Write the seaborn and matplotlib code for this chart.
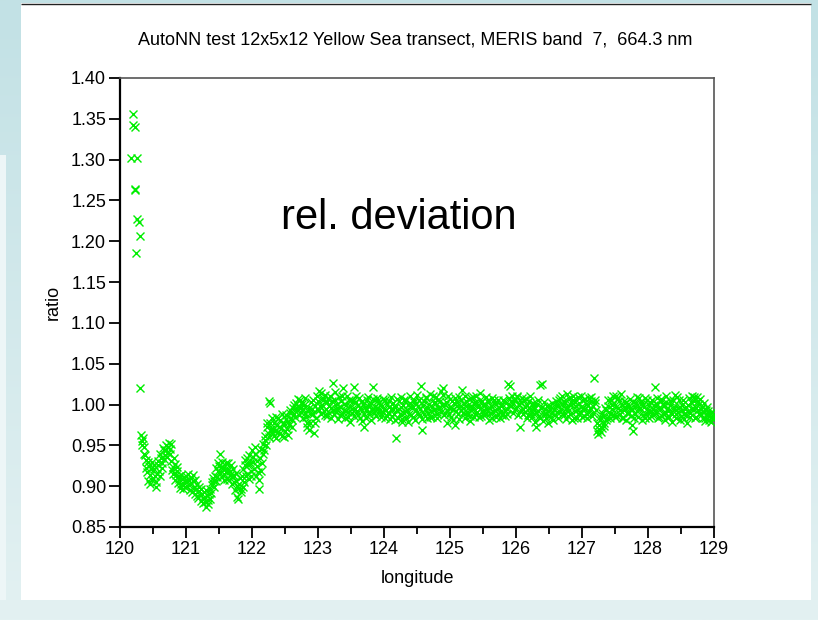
import numpy as np
import pandas as pd
import matplotlib
matplotlib.use("Agg")
import matplotlib.pyplot as plt
import seaborn as sns
from matplotlib.patches import Rectangle
from matplotlib.colors import LinearSegmentedColormap
from matplotlib.ticker import MultipleLocator, FormatStrFormatter

sns.set_style("white")
plt.rcParams["font.family"] = ["Liberation Sans", "DejaVu Sans"]
plt.rcParams["text.color"] = "black"
plt.rcParams["axes.labelcolor"] = "black"

TITLE = "AutoNN test 12x5x12 Yellow Sea transect, MERIS band  7,  664.3 nm"

# Near-coast samples with strongly elevated ratio
lon_outlier = [120.19, 120.20, 120.23, 120.17, 120.26, 120.23, 120.23,
               120.26, 120.29, 120.30, 120.24, 120.30]
ratio_outlier = [1.356, 1.342, 1.340, 1.302, 1.302, 1.264, 1.263,
                 1.227, 1.223, 1.206, 1.186, 1.020]

# Coastal stretch (depressed ratio), even samples
lon_coast = [
    120.32, 120.34, 120.36, 120.38, 120.40, 120.42, 120.44, 120.46, 120.48, 120.50,
    120.52, 120.54, 120.56, 120.58, 120.60, 120.62, 120.64, 120.66, 120.68, 120.70,
    120.72, 120.74, 120.76, 120.78, 120.80, 120.82, 120.84, 120.86, 120.88, 120.90,
    120.92, 120.94, 120.96, 120.98, 121.00, 121.02, 121.04, 121.06, 121.08, 121.10,
    121.12, 121.14, 121.16, 121.18, 121.20, 121.22, 121.24, 121.26, 121.28, 121.30,
    121.32, 121.34, 121.36, 121.38, 121.40, 121.42, 121.44, 121.46, 121.48, 121.50,
    121.52, 121.54, 121.56, 121.58, 121.60, 121.62, 121.64, 121.66, 121.68, 121.70,
    121.72, 121.74, 121.76, 121.78, 121.80, 121.82, 121.84, 121.86, 121.88, 121.90,
    121.92, 121.94, 121.96, 121.98, 122.00, 122.02, 122.04, 122.06, 122.08, 122.10,
    122.12, 122.14, 122.16, 122.18, 122.20, 122.22, 122.24, 122.26, 122.28, 122.30,
]
ratio_coast = [
    0.963, 0.955, 0.948, 0.938, 0.932, 0.906, 0.925, 0.914, 0.930, 0.910,
    0.921, 0.899, 0.915, 0.926, 0.912, 0.935, 0.928, 0.944, 0.938, 0.950,
    0.941, 0.953, 0.946, 0.931, 0.924, 0.935, 0.908, 0.918, 0.904, 0.912,
    0.903, 0.909, 0.897, 0.906, 0.912, 0.900, 0.908, 0.895, 0.904, 0.914,
    0.898, 0.891, 0.903, 0.886, 0.894, 0.882, 0.890, 0.879, 0.886, 0.875,
    0.889, 0.883, 0.897, 0.892, 0.905, 0.899, 0.913, 0.906, 0.918, 0.925,
    0.940, 0.911, 0.922, 0.915, 0.928, 0.909, 0.920, 0.914, 0.926, 0.903,
    0.912, 0.895, 0.906, 0.887, 0.898, 0.910, 0.893, 0.921, 0.905, 0.932,
    0.915, 0.926, 0.938, 0.919, 0.944, 0.930, 0.948, 0.912, 0.925, 0.897,
    0.935, 0.918, 0.952, 0.944, 0.957, 0.972, 0.965, 1.004, 0.978, 0.984,
]

# Coastal stretch, odd samples
lon_coast_b = [
    120.33, 120.35, 120.37, 120.39, 120.41, 120.43, 120.45, 120.47, 120.49, 120.51,
    120.53, 120.55, 120.57, 120.59, 120.61, 120.63, 120.65, 120.67, 120.69, 120.71,
    120.73, 120.75, 120.77, 120.79, 120.81, 120.83, 120.85, 120.87, 120.89, 120.91,
    120.93, 120.95, 120.97, 120.99, 121.01, 121.03, 121.05, 121.07, 121.09, 121.11,
    121.13, 121.15, 121.17, 121.19, 121.21, 121.23, 121.25, 121.27, 121.29, 121.31,
    121.33, 121.35, 121.37, 121.39, 121.41, 121.43, 121.45, 121.47, 121.49, 121.51,
    121.53, 121.55, 121.57, 121.59, 121.61, 121.63, 121.65, 121.67, 121.69, 121.71,
    121.73, 121.75, 121.77, 121.79, 121.81, 121.83, 121.85, 121.87, 121.89, 121.91,
    121.93, 121.95, 121.97, 121.99, 122.01, 122.03, 122.05, 122.07, 122.09, 122.11,
    122.13, 122.15, 122.17, 122.19, 122.21, 122.23, 122.25, 122.27, 122.29, 122.31,
]
ratio_coast_b = [
    0.951, 0.959, 0.940, 0.922, 0.917, 0.930, 0.903, 0.921, 0.908, 0.926,
    0.913, 0.905, 0.931, 0.919, 0.940, 0.922, 0.947, 0.933, 0.944, 0.936,
    0.948, 0.939, 0.952, 0.920, 0.915, 0.927, 0.914, 0.923, 0.909, 0.898,
    0.914, 0.902, 0.911, 0.899, 0.906, 0.915, 0.901, 0.910, 0.893, 0.906,
    0.908, 0.897, 0.888, 0.899, 0.889, 0.896, 0.885, 0.893, 0.881, 0.895,
    0.878, 0.890, 0.884, 0.901, 0.910, 0.906, 0.922, 0.911, 0.928, 0.916,
    0.924, 0.930, 0.908, 0.921, 0.917, 0.929, 0.907, 0.919, 0.913, 0.921,
    0.905, 0.916, 0.900, 0.884, 0.903, 0.897, 0.912, 0.899, 0.926, 0.913,
    0.935, 0.909, 0.928, 0.912, 0.936, 0.921, 0.940, 0.931, 0.917, 0.908,
    0.945, 0.928, 0.940, 0.962, 0.950, 0.978, 0.960, 1.002, 0.970, 0.966,
]

# Offshore stretch (ratio close to one), even samples
lon_offshore = [
    122.32, 122.34, 122.36, 122.38, 122.40, 122.42, 122.44, 122.46, 122.48, 122.50,
    122.52, 122.54, 122.56, 122.58, 122.60, 122.62, 122.64, 122.66, 122.68, 122.70,
    122.72, 122.74, 122.76, 122.78, 122.80, 122.82, 122.84, 122.86, 122.88, 122.90,
    122.92, 122.94, 122.96, 122.98, 123.00, 123.02, 123.04, 123.06, 123.08, 123.10,
    123.12, 123.14, 123.16, 123.18, 123.20, 123.22, 123.24, 123.26, 123.28, 123.30,
    123.32, 123.34, 123.36, 123.38, 123.40, 123.42, 123.44, 123.46, 123.48, 123.50,
    123.52, 123.54, 123.56, 123.58, 123.60, 123.62, 123.64, 123.66, 123.68, 123.70,
    123.72, 123.74, 123.76, 123.78, 123.80, 123.82, 123.84, 123.86, 123.88, 123.90,
    123.92, 123.94, 123.96, 123.98, 124.00, 124.02, 124.04, 124.06, 124.08, 124.10,
    124.12, 124.14, 124.16, 124.18, 124.20, 124.22, 124.24, 124.26, 124.28, 124.30,
    124.32, 124.34, 124.36, 124.38, 124.40, 124.42, 124.44, 124.46, 124.48, 124.50,
    124.52, 124.54, 124.56, 124.58, 124.60, 124.62, 124.64, 124.66, 124.68, 124.70,
    124.72, 124.74, 124.76, 124.78, 124.80, 124.82, 124.84, 124.86, 124.88, 124.90,
    124.92, 124.94, 124.96, 124.98, 125.00, 125.02, 125.04, 125.06, 125.08, 125.10,
    125.12, 125.14, 125.16, 125.18, 125.20, 125.22, 125.24, 125.26, 125.28, 125.30,
    125.32, 125.34, 125.36, 125.38, 125.40, 125.42, 125.44, 125.46, 125.48, 125.50,
    125.52, 125.54, 125.56, 125.58, 125.60, 125.62, 125.64, 125.66, 125.68, 125.70,
    125.72, 125.74, 125.76, 125.78, 125.80, 125.82, 125.84, 125.86, 125.88, 125.90,
    125.92, 125.94, 125.96, 125.98, 126.00, 126.02, 126.04, 126.06, 126.08, 126.10,
    126.12, 126.14, 126.16, 126.18, 126.20, 126.22, 126.24, 126.26, 126.28, 126.30,
    126.32, 126.34, 126.36, 126.38, 126.40, 126.42, 126.44, 126.46, 126.48, 126.50,
    126.52, 126.54, 126.56, 126.58, 126.60, 126.62, 126.64, 126.66, 126.68, 126.70,
    126.72, 126.74, 126.76, 126.78, 126.80, 126.82, 126.84, 126.86, 126.88, 126.90,
    126.92, 126.94, 126.96, 126.98, 127.00, 127.02, 127.04, 127.06, 127.08, 127.10,
    127.12, 127.14, 127.16, 127.18, 127.20, 127.22, 127.24, 127.26, 127.28, 127.30,
    127.32, 127.34, 127.36, 127.38, 127.40, 127.42, 127.44, 127.46, 127.48, 127.50,
    127.52, 127.54, 127.56, 127.58, 127.60, 127.62, 127.64, 127.66, 127.68, 127.70,
    127.72, 127.74, 127.76, 127.78, 127.80, 127.82, 127.84, 127.86, 127.88, 127.90,
    127.92, 127.94, 127.96, 127.98, 128.00, 128.02, 128.04, 128.06, 128.08, 128.10,
    128.12, 128.14, 128.16, 128.18, 128.20, 128.22, 128.24, 128.26, 128.28, 128.30,
    128.32, 128.34, 128.36, 128.38, 128.40, 128.42, 128.44, 128.46, 128.48, 128.50,
    128.52, 128.54, 128.56, 128.58, 128.60, 128.62, 128.64, 128.66, 128.68, 128.70,
    128.72, 128.74, 128.76, 128.78, 128.80, 128.82, 128.84, 128.86, 128.88, 128.90,
    128.92, 128.94, 128.96, 128.98, 129.00,
]
ratio_offshore = [
    0.970, 0.962, 0.985, 0.975, 0.966, 0.981, 0.971, 0.962, 0.978, 0.968,
    0.987, 0.963, 0.975, 0.990, 0.981, 0.996, 0.988, 1.002, 0.993, 0.998,
    1.006, 0.991, 1.001, 0.994, 1.008, 0.985, 0.972, 0.996, 0.978, 1.003,
    0.989, 0.965, 0.998, 1.010, 1.004, 0.993, 1.014, 0.999, 1.008, 0.987,
    0.995, 1.003, 0.990, 1.011, 0.996, 1.026, 0.988, 1.005, 0.994, 0.982,
    1.009, 0.997, 0.989, 1.020, 1.001, 0.992, 1.010, 0.985, 0.998, 1.006,
    0.990, 1.022, 0.995, 1.003, 0.987, 1.008, 0.996, 0.980, 1.001, 0.973,
    0.993, 1.005, 0.998, 0.988, 1.002, 0.994, 1.021, 0.997, 0.986, 1.004,
    0.992, 0.999, 0.989, 1.007, 0.995, 0.984, 1.001, 0.990, 0.997, 1.009,
    0.986, 0.995, 0.981, 0.959, 0.993, 1.004, 0.988, 0.997, 0.979, 1.006,
    0.992, 0.983, 1.000, 0.989, 1.010, 0.996, 0.985, 1.003, 0.993, 1.012,
    0.998, 0.987, 1.023, 0.969, 1.004, 0.994, 1.008, 0.990, 1.001, 0.985,
    0.997, 1.011, 0.993, 1.003, 0.988, 1.006, 0.995, 1.016, 0.999, 1.012,
    0.990, 1.003, 0.978, 0.996, 1.007, 0.985, 0.994, 1.002, 0.975, 0.998,
    0.989, 1.009, 0.993, 1.018, 0.996, 0.983, 1.004, 0.991, 0.999, 0.986,
    1.008, 0.994, 1.002, 0.988, 1.011, 0.997, 0.985, 1.005, 0.992, 1.000,
    0.987, 1.009, 0.995, 1.003, 0.990, 0.998, 0.984, 1.006, 0.993, 1.001,
    0.988, 0.996, 0.983, 0.999, 0.990, 1.004, 0.986, 0.995, 1.025, 1.008,
    0.998, 1.010, 1.002, 1.007, 0.996, 1.009, 0.999, 0.972, 1.003, 0.994,
    1.006, 0.991, 0.999, 0.987, 1.004, 0.993, 0.985, 0.998, 0.989, 0.973,
    1.001, 0.992, 0.984, 0.996, 1.025, 0.988, 0.995, 0.983, 0.992, 0.986,
    0.998, 0.990, 0.981, 0.995, 1.004, 0.991, 0.999, 1.008, 0.994, 1.010,
    0.987, 1.002, 0.982, 0.997, 1.008, 0.989, 0.999, 1.011, 0.984, 1.003,
    0.993, 1.009, 0.988, 0.997, 0.985, 1.005, 0.994, 1.001, 0.989, 1.008,
    0.996, 1.004, 0.990, 1.033, 1.002, 0.968, 0.964, 0.975, 0.981, 0.971,
    0.986, 0.978, 0.993, 0.984, 0.998, 0.988, 1.006, 0.994, 1.002, 0.985,
    1.010, 0.996, 1.004, 0.989, 0.999, 0.983, 0.993, 1.003, 0.990, 0.997,
    1.007, 0.986, 0.994, 0.967, 0.988, 1.002, 0.992, 1.008, 0.996, 1.004,
    0.987, 0.997, 0.984, 1.005, 0.992, 0.999, 0.986, 1.006, 0.994, 1.022,
    0.990, 1.001, 0.985, 0.995, 1.007, 0.989, 0.998, 0.981, 1.003, 0.992,
    0.985, 0.999, 0.988, 1.006, 0.994, 0.983, 1.009, 0.991, 0.997, 0.986,
    0.993, 0.982, 0.995, 0.987, 0.999, 1.008, 0.990, 1.011, 0.996, 1.004,
    0.985, 1.009, 0.993, 1.001, 0.987, 0.997, 0.991, 0.984, 0.993, 0.988,
    0.981, 0.990, 0.985, 0.982, 0.987,
]

# Offshore stretch, odd samples
lon_offshore_b = [
    122.33, 122.35, 122.37, 122.39, 122.41, 122.43, 122.45, 122.47, 122.49, 122.51,
    122.53, 122.55, 122.57, 122.59, 122.61, 122.63, 122.65, 122.67, 122.69, 122.71,
    122.73, 122.75, 122.77, 122.79, 122.81, 122.83, 122.85, 122.87, 122.89, 122.91,
    122.93, 122.95, 122.97, 122.99, 123.01, 123.03, 123.05, 123.07, 123.09, 123.11,
    123.13, 123.15, 123.17, 123.19, 123.21, 123.23, 123.25, 123.27, 123.29, 123.31,
    123.33, 123.35, 123.37, 123.39, 123.41, 123.43, 123.45, 123.47, 123.49, 123.51,
    123.53, 123.55, 123.57, 123.59, 123.61, 123.63, 123.65, 123.67, 123.69, 123.71,
    123.73, 123.75, 123.77, 123.79, 123.81, 123.83, 123.85, 123.87, 123.89, 123.91,
    123.93, 123.95, 123.97, 123.99, 124.01, 124.03, 124.05, 124.07, 124.09, 124.11,
    124.13, 124.15, 124.17, 124.19, 124.21, 124.23, 124.25, 124.27, 124.29, 124.31,
    124.33, 124.35, 124.37, 124.39, 124.41, 124.43, 124.45, 124.47, 124.49, 124.51,
    124.53, 124.55, 124.57, 124.59, 124.61, 124.63, 124.65, 124.67, 124.69, 124.71,
    124.73, 124.75, 124.77, 124.79, 124.81, 124.83, 124.85, 124.87, 124.89, 124.91,
    124.93, 124.95, 124.97, 124.99, 125.01, 125.03, 125.05, 125.07, 125.09, 125.11,
    125.13, 125.15, 125.17, 125.19, 125.21, 125.23, 125.25, 125.27, 125.29, 125.31,
    125.33, 125.35, 125.37, 125.39, 125.41, 125.43, 125.45, 125.47, 125.49, 125.51,
    125.53, 125.55, 125.57, 125.59, 125.61, 125.63, 125.65, 125.67, 125.69, 125.71,
    125.73, 125.75, 125.77, 125.79, 125.81, 125.83, 125.85, 125.87, 125.89, 125.91,
    125.93, 125.95, 125.97, 125.99, 126.01, 126.03, 126.05, 126.07, 126.09, 126.11,
    126.13, 126.15, 126.17, 126.19, 126.21, 126.23, 126.25, 126.27, 126.29, 126.31,
    126.33, 126.35, 126.37, 126.39, 126.41, 126.43, 126.45, 126.47, 126.49, 126.51,
    126.53, 126.55, 126.57, 126.59, 126.61, 126.63, 126.65, 126.67, 126.69, 126.71,
    126.73, 126.75, 126.77, 126.79, 126.81, 126.83, 126.85, 126.87, 126.89, 126.91,
    126.93, 126.95, 126.97, 126.99, 127.01, 127.03, 127.05, 127.07, 127.09, 127.11,
    127.13, 127.15, 127.17, 127.19, 127.21, 127.23, 127.25, 127.27, 127.29, 127.31,
    127.33, 127.35, 127.37, 127.39, 127.41, 127.43, 127.45, 127.47, 127.49, 127.51,
    127.53, 127.55, 127.57, 127.59, 127.61, 127.63, 127.65, 127.67, 127.69, 127.71,
    127.73, 127.75, 127.77, 127.79, 127.81, 127.83, 127.85, 127.87, 127.89, 127.91,
    127.93, 127.95, 127.97, 127.99, 128.01, 128.03, 128.05, 128.07, 128.09, 128.11,
    128.13, 128.15, 128.17, 128.19, 128.21, 128.23, 128.25, 128.27, 128.29, 128.31,
    128.33, 128.35, 128.37, 128.39, 128.41, 128.43, 128.45, 128.47, 128.49, 128.51,
    128.53, 128.55, 128.57, 128.59, 128.61, 128.63, 128.65, 128.67, 128.69, 128.71,
    128.73, 128.75, 128.77, 128.79, 128.81, 128.83, 128.85, 128.87, 128.89, 128.91,
    128.93, 128.95, 128.97, 128.99,
]
ratio_offshore_b = [
    0.978, 0.968, 0.959, 0.983, 0.972, 0.965, 0.988, 0.976, 0.960, 0.982,
    0.970, 0.979, 0.993, 0.984, 0.973, 1.000, 0.985, 0.994, 1.007, 0.987,
    0.996, 1.003, 0.984, 0.999, 0.990, 0.978, 0.992, 0.969, 0.988, 0.995,
    1.006, 0.977, 0.984, 0.995, 1.017, 0.998, 0.988, 1.005, 0.992, 1.012,
    0.986, 1.007, 0.998, 0.984, 1.004, 0.993, 1.015, 0.991, 1.001, 0.996,
    0.987, 1.004, 1.011, 0.993, 0.983, 0.999, 0.991, 1.005, 0.979, 0.994,
    1.004, 0.986, 1.010, 0.992, 0.999, 0.983, 0.994, 1.004, 0.989, 0.997,
    0.984, 1.009, 0.991, 1.000, 0.981, 1.007, 0.990, 0.993, 1.008, 0.996,
    1.003, 0.985, 0.998, 0.991, 1.006, 0.993, 0.986, 1.004, 0.982, 0.994,
    1.002, 0.988, 0.997, 1.007, 0.984, 0.995, 1.009, 0.982, 0.999, 0.990,
    1.005, 0.993, 0.979, 1.002, 0.987, 0.998, 1.006, 0.981, 1.001, 0.989,
    1.006, 0.995, 0.982, 0.999, 0.988, 1.009, 0.984, 0.996, 1.013, 0.992,
    0.985, 1.002, 0.994, 1.009, 0.983, 0.997, 1.004, 0.991, 1.020, 0.987,
    1.000, 0.993, 1.011, 0.988, 0.996, 1.004, 0.981, 1.008, 0.992, 1.003,
    0.982, 0.998, 1.006, 0.990, 1.001, 1.010, 0.987, 0.996, 1.007, 0.980,
    0.997, 1.009, 0.985, 1.003, 0.991, 0.999, 1.014, 0.986, 1.004, 0.993,
    0.999, 0.989, 1.006, 0.981, 0.996, 1.008, 0.991, 1.002, 0.985, 0.995,
    1.005, 0.991, 0.998, 0.987, 1.006, 0.993, 1.002, 0.989, 0.999, 1.023,
    1.004, 0.990, 1.006, 0.995, 1.011, 0.987, 1.001, 0.993, 1.008, 0.988,
    0.997, 1.007, 0.984, 0.996, 1.010, 0.988, 1.002, 0.994, 0.979, 0.991,
    1.006, 0.986, 1.024, 0.997, 0.980, 1.003, 0.989, 0.998, 0.977, 0.994,
    0.985, 1.002, 0.993, 0.987, 0.999, 0.983, 1.006, 0.991, 1.001, 0.988,
    1.004, 0.994, 1.013, 0.986, 0.993, 1.003, 0.981, 1.006, 0.992, 0.998,
    0.984, 1.002, 0.991, 1.011, 0.996, 0.986, 1.007, 0.983, 0.999, 0.992,
    1.009, 0.986, 0.998, 1.006, 0.993, 0.977, 0.970, 0.985, 0.966, 0.990,
    0.974, 0.996, 0.981, 1.005, 0.991, 0.983, 0.999, 1.011, 0.987, 0.997,
    0.986, 1.008, 0.993, 1.013, 0.984, 1.004, 0.997, 0.981, 1.001, 0.990,
    0.996, 0.975, 1.003, 0.983, 0.997, 1.009, 0.985, 0.994, 1.001, 0.981,
    0.999, 1.008, 0.989, 0.995, 0.983, 1.003, 0.992, 0.987, 1.000, 0.993,
    1.008, 0.983, 0.996, 1.004, 0.986, 1.001, 0.991, 1.010, 0.985, 0.996,
    1.004, 0.990, 0.979, 0.997, 1.012, 0.988, 0.996, 1.005, 0.981, 0.999,
    1.006, 0.989, 0.997, 0.978, 0.992, 0.985, 1.003, 0.994, 1.009, 0.983,
    0.996, 1.004, 0.988, 1.007, 0.995, 0.983, 1.002, 0.980, 0.997, 0.992,
    0.986, 0.979, 0.991, 0.984,
]

df = pd.DataFrame({
    "longitude": lon_outlier + lon_coast + lon_coast_b + lon_offshore + lon_offshore_b,
    "ratio": ratio_outlier + ratio_coast + ratio_coast_b + ratio_offshore + ratio_offshore_b,
})

W, H = 818, 620
fig = plt.figure(figsize=(W / 100, H / 100), dpi=100)

# Slide backdrop: pale blue gradient with a white content panel
bg = fig.add_axes([0, 0, 1, 1], zorder=-10)
bg.set_xlim(0, W)
bg.set_ylim(H, 0)
bg.axis("off")
slide_cmap = LinearSegmentedColormap.from_list("slide", ["#c2e1e5", "#e3f1f2"])
bg.imshow(np.linspace(0, 1, 256)[:, None], cmap=slide_cmap,
          extent=(0, W, H, 0), aspect="auto")
bg.add_patch(Rectangle((0, 155), 6, 445, facecolor="#edf6f7", edgecolor="none"))
bg.add_patch(Rectangle((21, 3), 790, 597, facecolor="white", edgecolor="none"))
bg.plot([21, 811], [3.5, 3.5], color="#222222", lw=1.0, solid_capstyle="butt")

ax = fig.add_axes([120 / W, 1 - 527 / H, 594 / W, 449 / H])
sns.scatterplot(data=df, x="longitude", y="ratio", marker="x", color="#00ee00",
                s=33, linewidth=1.0, legend=False, ax=ax, zorder=3)

ax.set_xlim(120, 129)
ax.set_ylim(0.85, 1.40)
ax.xaxis.set_major_locator(MultipleLocator(1))
ax.xaxis.set_minor_locator(MultipleLocator(0.5))
ax.yaxis.set_major_locator(MultipleLocator(0.05))
ax.yaxis.set_major_formatter(FormatStrFormatter("%.2f"))
ax.tick_params(which="both", bottom=True, left=True, top=False, right=False,
               direction="out", color="black", width=1.3)
ax.tick_params(which="major", length=8, labelsize=13, pad=2, labelcolor="black")
ax.tick_params(axis="x", which="minor", length=5)
ax.tick_params(axis="y", which="minor", length=0)

for side in ("left", "bottom"):
    ax.spines[side].set_color("black")
    ax.spines[side].set_linewidth(1.6)
for side in ("top", "right"):
    ax.spines[side].set_color("#555555")
    ax.spines[side].set_linewidth(1.2)

ax.set_xlabel("longitude", fontsize=13)
ax.set_ylabel("ratio", fontsize=13)
ax.xaxis.set_label_coords(0.5, -0.095)
ax.yaxis.set_label_coords(-0.098, 0.5)

fig.text(415 / W, 1 - 40 / H, TITLE, ha="center", va="center", fontsize=13)
fig.text(398.5 / W, 1 - 229 / H, "rel. deviation", ha="center", va="baseline",
         fontsize=30)

fig.savefig("out.png", dpi=100)
